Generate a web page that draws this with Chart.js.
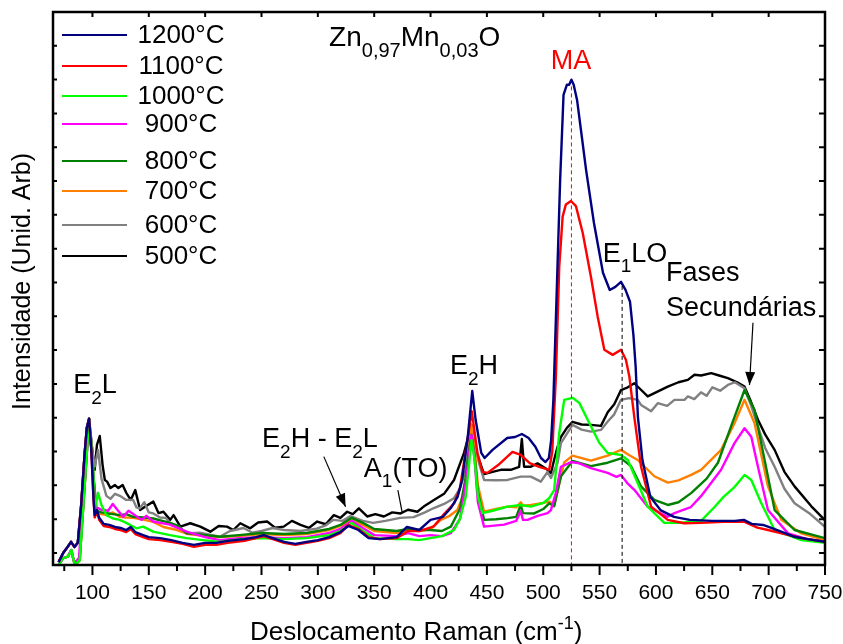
<!DOCTYPE html>
<html><head><meta charset="utf-8">
<script src="https://cdn.jsdelivr.net/npm/chart.js@4/dist/chart.umd.min.js"></script>
<style>html,body{margin:0;padding:0;background:#fff}</style>
</head><body>
<canvas id="c" width="843" height="644" style="width:843px;height:644px;display:block"></canvas>
<script>
// ---- Data: Raman shift (cm-1), intensity (arb. units) ----
const s1200 = [[70,-2.7],[74,0],[78,1.8],[81,3.3],[84,1.8],[87,3.0],[90,14.2],[93,29.0],[95,37.0],[97,39.7],[99,30.5],[101,15.7],[102,11.2],[104,12.7],[106,10.4],[110,8.6],[115,8.3],[120,7.7],[125,7.4],[130,6.8],[134,7.7],[138,6.2],[145,5.3],[150,4.7],[160,4.4],[170,3.8],[180,3.0],[190,2.4],[200,3.0],[210,3.0],[220,3.6],[235,4.1],[245,4.7],[252,5.3],[260,4.4],[270,3.3],[280,2.7],[290,3.3],[300,3.8],[310,4.7],[320,6.2],[327,8.0],[336,6.8],[345,4.4],[355,4.1],[370,4.7],[379,7.7],[390,6.8],[400,9.8],[411,10.7],[418,13.3],[424,16.6],[428,21.6],[433,34.3],[437,47.9],[440,39.4],[445,29.6],[448,28.1],[455,30.5],[468,34.0],[475,34.3],[481,35.2],[487,34.0],[493,31.4],[498,28.1],[502,26.9],[505,28.1],[507,33.4],[509,45.3],[512,77.8],[515,110.4],[518,135.5],[521,138.5],[523,138.5],[525,140.0],[527,138.5],[530,134.0],[534,123.7],[538,113.3],[545,97.6],[553,82.9],[559,77.8],[564,78.7],[569,80.2],[573,77.8],[577,74.3],[580,64.5],[582,55.0],[584,40.2],[588,27.5],[595,16.6],[604,12.7],[616,10.7],[630,9.8],[650,9.5],[670,9.5],[678,9.8],[685,8.6],[695,8.3],[700,7.7],[710,6.5],[723,4.8],[735,4.1],[750,3.3]];
const s1100 = [[70,-2.7],[74,0],[78,1.8],[81,3.3],[84,1.8],[87,3.0],[90,14.2],[93,29.0],[95,37.0],[97,39.7],[99,30.5],[101,15.7],[102,10.5],[104,12.2],[106,9.8],[110,8.0],[115,7.7],[120,7.1],[125,6.8],[130,6.2],[134,7.1],[138,5.6],[145,4.7],[150,4.1],[160,3.8],[170,3.3],[180,2.7],[190,1.8],[200,2.4],[210,2.4],[220,3.0],[235,3.6],[245,4.4],[252,5.0],[260,4.1],[270,3.0],[280,2.4],[290,3.0],[300,3.6],[310,4.4],[320,5.9],[327,8.3],[336,7.1],[345,4.7],[355,4.1],[370,4.4],[380,6.5],[390,6.5],[403,7.9],[412,11.5],[421,14.7],[426,19.0],[431,29.6],[436.6,41.9],[441.6,29.6],[446,24.0],[450.5,23.7],[460,26.0],[472.7,29.9],[480,29.0],[488,26.6],[496.4,25.5],[505.3,24.6],[508,30.0],[511.2,52.0],[514.2,84.7],[517.2,99.5],[520.1,103.1],[524.6,104.1],[529,102.6],[535,94.7],[542.3,81.7],[548.3,69.9],[554.2,60.1],[561.6,58.6],[569,60.1],[573.4,57.1],[576.4,52.2],[580.8,40.2],[586.8,25.5],[595.7,13.7],[610.5,9.8],[625,8.8],[640,8.9],[660,9.2],[678.6,9.2],[690,7.5],[699.4,6.8],[729,4.4],[750,3.3]];
const s1000 = [[70,-3.5],[74,-1.5],[78.3,-1.1],[81.3,0.9],[84.3,-3.6],[88.7,-2.1],[93.2,20.4],[97,39.7],[100.6,25.6],[102,12.7],[105,17.8],[108,14.2],[112.4,11.2],[118.3,10.2],[124.3,9.8],[130,8.9],[139,7.3],[145,7.8],[153.9,6.3],[168.7,5.3],[183.5,4.4],[198.3,3.8],[213,3.3],[230,4.0],[250,4.4],[270,4.1],[290,4.4],[310,5.3],[320,6.5],[330,8.9],[340,6.5],[350,4.4],[370,4.1],[380,4.1],[390,3.8],[400,4.4],[410,5.0],[420.8,6.8],[426,10.0],[431.2,16.6],[433.5,24.0],[436.3,33.4],[439,28.0],[442,17.0],[446,11.8],[455,12.5],[468.3,13.7],[480,14.2],[489,13.7],[500,14.8],[505.3,16.2],[509.7,18.6],[514.2,35.5],[518.6,45.3],[526,45.9],[532,44.4],[539.4,39.4],[549.7,32.6],[557.2,29.6],[569,29.0],[575,27.5],[583.8,20.7],[592.7,13.7],[607.4,8.9],[620,8.9],[630,9.2],[640,9.5],[652,13.6],[660,16.6],[669.7,19.5],[678.6,23.1],[684.6,21.6],[693.4,14.8],[705.3,6.8],[729,3.8],[750,3.0]];
const s900 = [[70,-3.5],[74,-1.5],[78,-1.1],[81,0.9],[84,-3.0],[88,-1.5],[93,20.0],[97,39.7],[100.5,24.0],[103.5,13.5],[108,12.8],[113.9,12.5],[118,14.5],[122.8,12.5],[127.2,10.7],[132,12.5],[137.6,11.2],[143.5,9.8],[148,11.0],[153.9,9.3],[168.7,8.4],[183.5,6.3],[200,4.7],[213,3.8],[230,4.4],[250,4.7],[270,4.4],[290,4.7],[310,5.9],[320,7.1],[330,9.5],[340,7.4],[350,5.3],[370,5.0],[380,5.9],[390,5.0],[400,5.3],[410,5.0],[418,5.9],[426,10.0],[431,20.0],[433.5,27.0],[436.3,34.9],[439,28.0],[442,15.0],[447.5,7.8],[465.3,8.4],[476,9.5],[480,12.4],[482,9.8],[486,9.8],[495,11.0],[503.8,11.8],[506.8,12.7],[511.2,17.8],[515.7,25.5],[524.6,26.9],[532,26.5],[542.3,25.1],[557.2,23.7],[565,22.5],[569,23.1],[575,20.5],[580.8,18.7],[592.7,13.7],[610.5,10.7],[616.4,11.8],[631,13.6],[640,16.8],[657.8,24.6],[669.7,32.5],[678.6,36.9],[684.6,34.4],[690.5,25.5],[699.4,12.7],[717.2,5.8],[735,4.0],[750,3.3]];
const s800 = [[70,-3.5],[74,-1.5],[78.3,-1.1],[81.3,0.9],[84.3,-3.6],[88.7,-2.1],[93.2,20.4],[97,39.7],[100.6,24.0],[103.5,12.5],[108,12.0],[112.4,11.8],[118,11.5],[124.3,11.2],[130,11.5],[136,10.7],[145,10.5],[153.9,10.2],[168.7,8.9],[176,8.0],[183.5,5.8],[195,5.5],[213,4.8],[230,5.3],[250,5.9],[270,5.6],[290,5.9],[310,7.1],[320,8.3],[330,10.4],[340,8.9],[350,7.1],[370,6.5],[380,7.1],[390,6.8],[400,6.8],[410,6.5],[418,7.8],[426,13.0],[431,22.0],[433.5,29.0],[436.3,34.9],[439,29.0],[442,18.0],[447.5,9.8],[458,10.0],[468.3,10.3],[476,10.7],[480,14.2],[482,11.8],[492,11.7],[500,13.0],[505.3,14.7],[509.7,13.8],[515.7,22.7],[526,27.2],[542.3,25.7],[557.2,26.7],[569,28.0],[577.8,25.7],[586.7,19.7],[598.6,15.7],[610.5,14.2],[620,15.0],[631.2,17.7],[645,22.0],[655,26.7],[666.8,37.6],[678.6,48.2],[687.5,42.3],[696.4,27.5],[705.3,12.7],[723,6.8],[750,4.4]];
const s700 = [[70,-3.5],[74,-1.5],[78.3,-1.1],[81.3,0.9],[84.3,-3.6],[88.7,-2.1],[93.2,20.4],[97,39.7],[100.6,24.0],[103,12.1],[108,11.5],[113,11.2],[118,12.0],[124,10.7],[130,10.5],[136,10.4],[146,9.8],[154,9.2],[163,7.7],[175,6.8],[185,5.6],[200,5.0],[213,4.7],[230,5.0],[250,5.6],[270,5.3],[290,5.6],[310,6.8],[320,8.0],[330,9.8],[340,8.3],[350,6.5],[370,5.9],[380,6.8],[390,6.5],[400,7.1],[409,9.8],[417,11.0],[423.8,12.7],[429,17.0],[432.7,24.6],[436.3,37.9],[439,31.0],[442,20.0],[447.5,12.2],[458,13.0],[468.3,13.7],[476,13.5],[480,15.0],[482,14.0],[489,14.2],[500,14.8],[505.3,15.2],[509.7,14.2],[518.6,26.8],[526,28.8],[542.3,27.3],[557.2,28.8],[569,30.5],[576,29.0],[583.8,27.5],[598.6,22.7],[610.5,20.8],[620,21.5],[631.2,23.1],[640,24.6],[657.8,30.5],[669.7,38.4],[678.6,45.3],[687.5,38.4],[699.4,19.7],[711.2,9.8],[729,5.8],[750,3.8]];
const s600 = [[70,-2.7],[74,0],[78,1.8],[81,3.3],[84,1.8],[87,3.0],[90,14.2],[93,29.0],[95,37.0],[97,39.7],[100,30.0],[102,25.6],[105,30.5],[108,22.0],[112.4,16.9],[116,16.0],[120,17.5],[124.3,16.9],[130,15.7],[136.1,15.7],[139,13.5],[142,13.2],[146,15.0],[150,12.0],[154,11.7],[160,10.5],[165,10.4],[169,8.8],[176,8.0],[183.5,5.8],[195,6.0],[213,4.8],[222,6.5],[234,7.4],[242,6.0],[250,6.5],[260,7.4],[270,6.8],[284.6,6.5],[299,7.2],[307,8.2],[314,9.8],[322,9.5],[329,10.9],[340,9.5],[349,8.9],[360,9.5],[373,10.4],[385,10.6],[395,12.0],[403,13.3],[412,14.5],[420.8,16.2],[426,19.0],[431.2,24.6],[436.3,36.4],[439,32.0],[443,26.6],[447.5,21.6],[458,21.5],[468.3,21.6],[480,22.6],[489,22.6],[497.9,21.1],[503.8,24.0],[506.8,22.2],[512.7,26.7],[515.7,32.5],[526,37.9],[534,36.5],[542.3,35.9],[551.2,36.4],[557.2,38.9],[563,41.0],[569,45.3],[576,45.8],[583.8,45.3],[586.8,43.8],[595.7,41.9],[601.6,44.3],[610,43.5],[616.4,45.3],[625.3,45.3],[628.3,46.3],[634,45.5],[640,47.5],[645,46.5],[650,49.0],[657,48.0],[663.8,49.7],[670,50.5],[678.6,48.7],[684,44.0],[690.5,37.4],[697,31.0],[705.3,25.5],[714,19.0],[723,14.7],[737,11.5],[749.7,7.8]];
const s500 = [[70,-2.7],[74,0],[78,1.8],[81,3.3],[84,1.8],[87,3.0],[90,14.2],[93,29.0],[95,37.0],[97,39.7],[100,30.0],[102,24.6],[104,32.0],[106.5,34.6],[109,26.0],[111,21.6],[113,21.1],[116,19.2],[120,20.1],[123,19.2],[126.8,20.1],[130,17.8],[134,15.7],[138,18.6],[142.3,12.7],[148,14.0],[154,15.2],[158.6,11.8],[163,12.2],[169,9.8],[172,11.2],[178,7.8],[186.8,8.8],[195.7,7.8],[204.6,6.3],[212,8.0],[219.4,7.8],[225,6.8],[231.2,8.8],[240,7.3],[247,9.0],[255,9.3],[262,7.5],[269.7,7.8],[277,9.5],[284.6,8.3],[292,7.4],[299.4,9.3],[307,8.5],[314.2,11.2],[320,10.4],[326,12.2],[331,11.5],[336.4,13.2],[343.8,10.8],[351,11.5],[358.6,10.8],[366,12.0],[373.4,11.7],[380,12.8],[388.3,12.2],[395,14.0],[403,15.7],[412,17.5],[420.8,21.6],[429.7,29.6],[436.3,37.9],[440,30.5],[447.5,23.3],[455,24.0],[462.3,24.6],[471.2,24.6],[478.6,25.5],[481,33.7],[483,25.5],[489,25.5],[494.9,26.5],[502.3,25.0],[506.8,23.6],[510,28.0],[512.7,31.4],[515.7,34.3],[521,37.0],[526,38.8],[534,38.0],[542.3,37.9],[551.2,37.6],[557.2,41.6],[563,44.0],[569,48.2],[575,49.0],[580.8,50.2],[586,48.5],[592.7,46.3],[600,47.5],[610.5,49.2],[620,50.5],[628.3,51.2],[634.2,52.7],[640,52.5],[649,53.2],[656,52.5],[663.8,51.7],[672,50.5],[678.6,49.2],[684,45.0],[690.5,39.4],[697,35.0],[705.3,30.5],[714,24.0],[723,19.7],[737.9,13.8],[749.7,9.8]];

const seriesLabels = ['1200°C','1100°C','1000°C','900°C','800°C','700°C','600°C','500°C'];
const seriesColors = ['#000080','#ff0000','#00ff00','#ff00ff','#008000','#ff8000','#808080','#000000'];
const seriesData = [s1200, s1100, s1000, s900, s800, s700, s600, s500];

const xMajorTicks = [100,150,200,250,300,350,400,450,500,550,600,650,700,750];
const xMinorTicks = [75,125,175,225,275,325,375,425,475,525,575,625,675,725];
const yTicks = [0,10,20,30,40,50,60,70,80,90,100,110,120,130,140,150];

// Reference lines (MA and E1LO) : [x, top intensity, colour]
const refLines = [[525,138,'#ff0000'],[570,79,'#000000']];

// Annotations in data coordinates
const labels = [
  {x:310, y:150, size:28, parts:[['Zn'],['0,97','sub'],['Mn'],['0,03','sub'],['O']], color:'#000'},
  {x:524.6, y:143, size:27, parts:[['MA']], color:'#ff0000', align:'center'},
  {x:83, y:47.3, size:27, parts:[['E'],['2','sub'],['L']], color:'#000'},
  {x:417.2, y:52.9, size:27, parts:[['E'],['2','sub'],['H']], color:'#000'},
  {x:250.5, y:31.3, size:27, parts:[['E'],['2','sub'],['H - E'],['2','sub'],['L']], color:'#000'},
  {x:340.8, y:22.6, size:27, parts:[['A'],['1','sub'],['(TO)']], color:'#000'},
  {x:552.7, y:86.2, size:27, parts:[['E'],['1','sub'],['LO']], color:'#000'},
  {x:609, y:80.3, size:27, parts:[['Fases']], color:'#000'},
  {x:609, y:70.1, size:27, parts:[['Secundárias']], color:'#000'}
];
const arrows = [
  [305.3,28.5,324.6,13.7,true],
  [371,18.6,375,11.7,false],
  [686.1,68.1,683,49.7,true]
];

const FONT = '"Liberation Sans", Arial, Helvetica, sans-serif';

function drawRich(ctx, x, y, parts, size, align){
  const subSize = Math.round(size*0.7);
  let total = 0;
  parts.forEach(p=>{ ctx.font = (p[1]?subSize:size)+'px '+FONT; total += ctx.measureText(p[0]).width; });
  let cx = align==='center' ? x-total/2 : x;
  ctx.textAlign = 'left';
  ctx.textBaseline = 'alphabetic';
  parts.forEach(p=>{
    ctx.font = (p[1]?subSize:size)+'px '+FONT;
    const dy = p[1]==='sub' ? size*0.4 : (p[1]==='sup' ? -size*0.42 : 0);
    ctx.fillText(p[0], cx, y+dy);
    cx += ctx.measureText(p[0]).width;
  });
}

const overlay = {
  id:'overlay',
  afterDraw(chart){
    const ctx = chart.ctx, a = chart.chartArea, xs = chart.scales.x, ys = chart.scales.y;
    ctx.save();
    // reference dashed lines
    refLines.forEach(r=>{
      const px = xs.getPixelForValue(r[0]);
      ctx.strokeStyle = r[2]; ctx.lineWidth = 1; ctx.setLineDash([4,3]);
      ctx.beginPath(); ctx.moveTo(px, ys.getPixelForValue(r[1])); ctx.lineTo(px, a.bottom); ctx.stroke();
    });
    ctx.setLineDash([]);
    // frame
    ctx.strokeStyle = '#000'; ctx.lineWidth = 2.5;
    ctx.strokeRect(a.left, a.top, a.right-a.left, a.bottom-a.top);
    // ticks
    ctx.lineWidth = 2;
    ctx.beginPath();
    xMajorTicks.forEach(v=>{ const px = xs.getPixelForValue(v); ctx.moveTo(px,a.bottom); ctx.lineTo(px,a.bottom+10); ctx.moveTo(px,a.top); ctx.lineTo(px,a.top+5); });
    xMinorTicks.forEach(v=>{ const px = xs.getPixelForValue(v); ctx.moveTo(px,a.bottom); ctx.lineTo(px,a.bottom+6); });
    yTicks.forEach(v=>{ const py = ys.getPixelForValue(v); ctx.moveTo(a.left,py); ctx.lineTo(a.left+4,py); ctx.moveTo(a.right,py); ctx.lineTo(a.right-6,py); });
    ctx.stroke();
    // x tick labels
    ctx.fillStyle = '#000';
    ctx.font = '21px '+FONT; ctx.textAlign = 'center'; ctx.textBaseline = 'middle';
    xMajorTicks.forEach(v=>{ ctx.fillText(String(v), xs.getPixelForValue(v), a.bottom+28); });
    // axis titles
    drawRich(ctx, 250, 640, [['Deslocamento Raman (cm'],['-1','sup'],[')']], 26);
    ctx.save();
    ctx.translate(30, (a.top+a.bottom)/2 - 7);
    ctx.rotate(-Math.PI/2);
    ctx.font = '25px '+FONT; ctx.textAlign = 'center'; ctx.textBaseline = 'alphabetic';
    ctx.fillText('Intensidade (Unid. Arb)', 0, 0);
    ctx.restore();
    // annotations
    labels.forEach(l=>{
      ctx.fillStyle = l.color;
      drawRich(ctx, xs.getPixelForValue(l.x), ys.getPixelForValue(l.y), l.parts, l.size, l.align);
    });
    // arrows
    ctx.strokeStyle = '#000'; ctx.fillStyle = '#000'; ctx.lineWidth = 1.2;
    arrows.forEach(ar=>{
      const x1 = xs.getPixelForValue(ar[0]), y1 = ys.getPixelForValue(ar[1]);
      const x2 = xs.getPixelForValue(ar[2]), y2 = ys.getPixelForValue(ar[3]);
      ctx.beginPath(); ctx.moveTo(x1,y1); ctx.lineTo(x2,y2); ctx.stroke();
      if (ar[4]) {
        const ang = Math.atan2(y2-y1, x2-x1), L = 13, W = 5;
        ctx.beginPath();
        ctx.moveTo(x2,y2);
        ctx.lineTo(x2 - L*Math.cos(ang) + W*Math.sin(ang), y2 - L*Math.sin(ang) - W*Math.cos(ang));
        ctx.lineTo(x2 - L*Math.cos(ang) - W*Math.sin(ang), y2 - L*Math.sin(ang) + W*Math.cos(ang));
        ctx.closePath(); ctx.fill();
      }
    });
    // legend
    const rowsY = [35,66,96,124,161,191,225,256];
    ctx.font = '26px '+FONT; ctx.textAlign = 'center'; ctx.textBaseline = 'middle';
    seriesLabels.forEach((lab,i)=>{
      ctx.strokeStyle = seriesColors[i]; ctx.lineWidth = 2;
      ctx.beginPath(); ctx.moveTo(62, rowsY[i]); ctx.lineTo(127, rowsY[i]); ctx.stroke();
      ctx.fillStyle = '#000';
      ctx.fillText(lab, 181, rowsY[i]+1);
    });
    ctx.restore();
  }
};

new Chart(document.getElementById('c'), {
  type: 'line',
  data: {
    datasets: seriesData.map((d,i)=>({
      label: seriesLabels[i],
      data: d.map(p=>({x:p[0], y:p[1]})),
      borderColor: seriesColors[i],
      backgroundColor: seriesColors[i],
      borderWidth: 2.4,
      borderJoinStyle: 'round',
      pointRadius: 0,
      tension: 0,
      fill: false
    }))
  },
  options: {
    responsive: false,
    animation: false,
    devicePixelRatio: 1,
    layout: { padding: { top: 12, right: 18, left: 0, bottom: 0 } },
    plugins: { legend: { display: false }, tooltip: { enabled: false } },
    scales: {
      x: { type: 'linear', min: 65, max: 750, grid: { display: false }, border: { display: false }, ticks: { display: false }, afterFit: s => { s.height = 79; } },
      y: { type: 'linear', min: -3.55, max: 160, grid: { display: false }, border: { display: false }, ticks: { display: false }, afterFit: s => { s.width = 53; } }
    }
  },
  plugins: [overlay]
});
</script>
</body></html>
